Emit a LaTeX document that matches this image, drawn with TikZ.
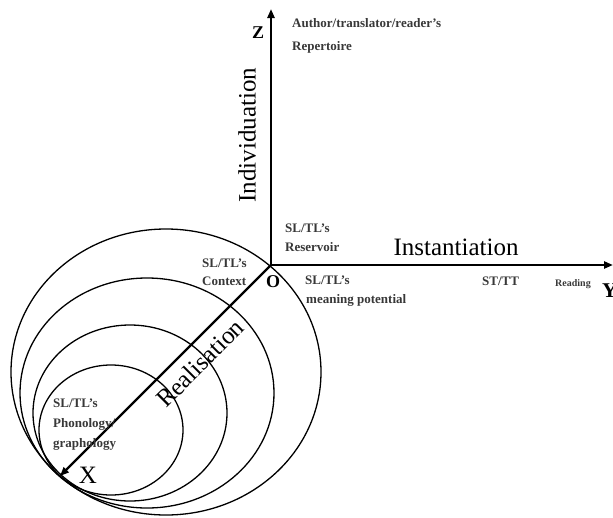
\documentclass[tikz,border=0pt]{standalone}
\usepackage{fontspec}
\setmainfont{Liberation Serif}
\usetikzlibrary{arrows.meta}
\begin{document}
\begin{tikzpicture}[x=1pt,y=-1pt,
  axis/.style={line width=2.4pt,-{Triangle[length=9pt,width=7pt]}},
  ring/.style={line width=1.3pt},
  small/.style={font=\fontsize{13}{15}\selectfont\bfseries, text=black!78, inner sep=0pt, anchor=base west},
  tiny/.style={font=\fontsize{10}{12}\selectfont\bfseries, text=black!78, inner sep=0pt, anchor=base west},
  big/.style={font=\fontsize{25}{28}\selectfont, inner sep=0pt},
  axlabel/.style={font=\fontsize{18}{20}\selectfont\bfseries, inner sep=0pt, anchor=base}]
\useasboundingbox (0,0) rectangle (613,517);
% realisation rings
\draw[ring] (111,430) ellipse [x radius=72, y radius=65];
\draw[ring] (130,413) ellipse [x radius=97, y radius=88];
\draw[ring] (147,393) ellipse [x radius=127, y radius=115];
\draw[ring] (166,372) ellipse [x radius=155, y radius=143];
% axes
\coordinate (O) at (271,265);
\coordinate (Ztip) at (271,9);
\coordinate (Ytip) at (613,265);
\coordinate (Xtip) at (60,476);
\draw[axis] (O) -- (Ztip);
\draw[axis] (O) -- (Ytip);
\draw[axis] (O) -- (Xtip);
% axis letters
\node[axlabel] (zl) at (258,38) {Z};
\node[axlabel] (ol) at (273,287) {O};
\node[axlabel, font=\fontsize{21}{22}\selectfont\bfseries, anchor=base west] (yl) at (602,297) {Y};
\node[axlabel, font=\fontsize{25}{26}\selectfont] (xl) at (88,483) {X};
% big labels
\node[big, rotate=90] (indiv) at (247,135) {Individuation};
\node[big, anchor=base] (inst) at (456,255) {Instantiation};
\node[big, rotate=45] (real) at (200,363) {Realisation};
% small labels
\node[small] (rep1) at (292,27) {Author/translator/reader’s};
\node[small] (rep2) at (292,50) {Repertoire};
\node[small] (res1) at (285,232) {SL/TL’s};
\node[small] (res2) at (285,251) {Reservoir};
\node[small] (con1) at (202,267) {SL/TL’s};
\node[small] (con2) at (202,285) {Context};
\node[small] (mp1) at (305,284) {SL/TL’s};
\node[small] (mp2) at (306,303) {meaning potential};
\node[small] (st) at (482,285) {ST/TT};
\node[tiny] (rd) at (555,286) {Reading};
\node[small] (ph1) at (53,407) {SL/TL’s};
\node[small] (ph2) at (53,427) {Phonology/};
\node[small] (ph3) at (53,447) {graphology};
\end{tikzpicture}
\end{document}
